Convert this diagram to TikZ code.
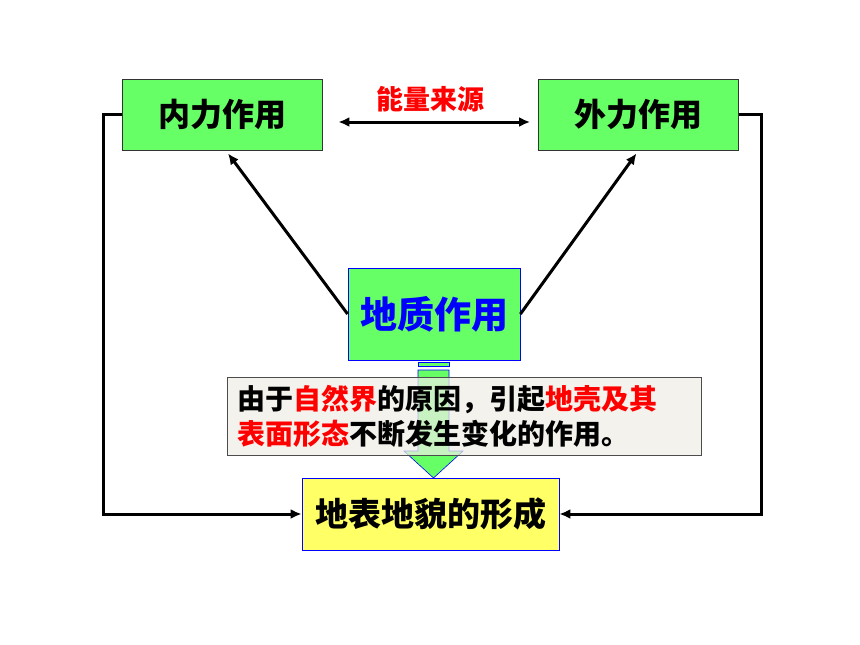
\documentclass[tikz,border=0pt]{standalone}
\usepackage{fontspec}
\newfontfamily\cjk{Noto Sans CJK SC}
\usetikzlibrary{arrows.meta}
\definecolor{boxgreen}{HTML}{66FF66}
\definecolor{boxyellow}{HTML}{FFFF66}
\definecolor{notefill}{HTML}{F0EEE6}

\tikzset{greenbox/.style={draw=black!80, fill=boxgreen, line width=0.8pt,
                          minimum width=200pt, minimum height=71pt, inner sep=0pt,
                          font=\cjk\bfseries\fontsize{32}{38}\selectfont},
         link/.style={line width=3pt, -{Latex[length=11pt,width=10pt]}}}

\begin{document}
\begin{tikzpicture}[x=1pt,y=-1pt]
  \useasboundingbox[fill=white] (0,0) rectangle (860,645);
  \node[greenbox] (inner) at (222,114.5) {内力作用};
    \node[greenbox] (outer) at (638.5,114.5) {外力作用};
    \node[greenbox, draw=blue, minimum width=172pt, minimum height=92pt, text=blue,
          font=\cjk\bfseries\fontsize{37}{44}\selectfont] (geo) at (434,314) {地质作用};
    \node[red, font=\cjk\bfseries\fontsize{27}{32}\selectfont] (energy) at (430,99) {能量来源};

    % striped block arrow
    \draw[blue, fill=boxgreen, line width=0.6pt] (418,362) rectangle (449,366);
    \draw[blue, fill=boxgreen, line width=0.6pt] (418,370) -- (449,370) -- (449,451)
      -- (463,451) -- (433.5,478) -- (404,451) -- (418,451) -- cycle;

    \node[draw=black!70, line width=0.8pt, fill=notefill, fill opacity=0.72,
          text opacity=1, draw opacity=1, minimum width=474pt, minimum height=78pt,
          text width=454pt, inner xsep=10pt, align=left,
          font=\cjk\bfseries\fontsize{28}{35}\selectfont] (note) at (464,416)
      {由于\textcolor{red}{自然界}的原因，引起\textcolor{red}{地壳及其}\\
       \textcolor{red}{表面形态}不断发生变化的作用。};
    \node[greenbox, draw=blue, fill=boxyellow, minimum width=257pt, minimum height=72pt,
          font=\cjk\bfseries\fontsize{33}{40}\selectfont] (landform) at (430.5,514) {地表地貌的形成};

    \draw[link] (geo.west) -- ([xshift=6pt,yshift=-3pt]inner.south);
    \draw[link] (geo.east) -- ([xshift=-2pt,yshift=-3pt]outer.south);
    \draw[link, {Latex[length=11pt,width=10pt]}-{Latex[length=11pt,width=10pt]}]
      ([shift={(16,7.5)}]inner.east) -- ([shift={(-8,7.5)}]outer.west);
    \draw[link] (inner.west) -- ++(-18,0) |- (landform.west);
    \draw[link] (outer.east) -- ++(23,0) |- (landform.east);

\end{tikzpicture}
\end{document}
